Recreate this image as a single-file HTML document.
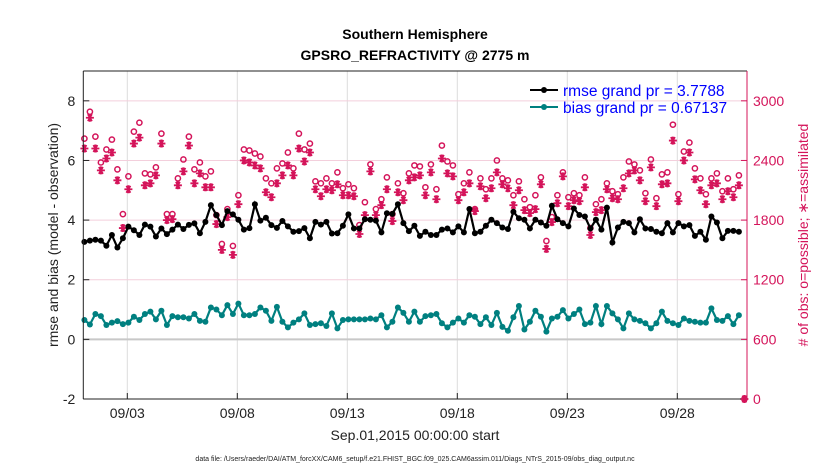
<!DOCTYPE html>
<html><head><meta charset="utf-8"><style>
body{margin:0;background:#fff;width:830px;height:470px;overflow:hidden;font-family:"Liberation Sans",sans-serif}
svg text{font-family:"Liberation Sans",sans-serif}
</style></head><body>
<svg id="chart" width="830" height="470" xmlns="http://www.w3.org/2000/svg"></svg>
<script>
const xTickLabels=["09/03","09/08","09/13","09/18","09/23","09/28"];
const xTickDays=[2,7,12,17,22,27];
const yTicksLeft=[-2,0,2,4,6,8];
const yTicksRight=[0,600,1200,1800,2400,3000];
const rmse=[3.27,3.31,3.34,3.31,3.14,3.5,3.08,3.39,3.78,3.66,3.5,3.85,3.78,3.45,3.72,3.53,3.68,3.85,3.7,3.84,3.89,3.56,3.94,4.5,4.17,3.83,4.3,4.19,4.01,3.68,3.73,4.53,3.98,4.08,3.83,3.74,3.97,3.79,3.61,3.63,3.73,3.39,3.94,3.85,3.94,3.55,3.56,3.81,4.19,3.72,3.72,4.03,4.01,3.98,3.59,4.23,4.21,4.53,3.9,3.63,3.81,
3.47,3.61,3.5,3.5,3.68,3.72,3.59,3.79,3.59,4.37,3.56,3.61,3.81,4.01,3.9,3.75,3.7,4.28,4.06,4.01,3.72,4.01,3.92,3.81,4.48,4.03,3.9,3.79,4.39,4.17,4.12,3.72,4.01,3.68,4.42,3.25,3.75,3.94,3.9,3.59,4.03,3.72,3.7,3.61,3.56,3.9,3.59,3.9,3.79,3.83,3.47,3.61,3.34,4.12,3.92,3.39,3.64,3.64,3.61];
const bias=[0.65,0.5,0.85,0.78,0.48,0.56,0.61,0.51,0.56,0.76,0.65,0.85,0.93,0.67,0.96,0.48,0.78,0.74,0.74,0.7,0.85,0.62,0.59,1.07,1.0,0.81,1.15,0.85,1.2,0.81,0.81,0.85,1.07,0.96,0.62,1.09,0.59,0.4,0.56,0.67,0.87,0.48,0.51,0.54,0.45,0.87,0.37,0.65,0.67,0.67,0.67,0.67,0.7,0.67,0.81,0.4,0.59,1.07,0.89,0.59,0.93,
0.59,0.78,0.81,0.85,0.54,0.4,0.56,0.7,0.56,0.81,0.76,0.51,0.74,0.48,0.89,0.42,0.29,0.74,1.12,0.33,0.59,0.96,0.76,0.26,0.7,0.76,0.98,0.7,0.85,1.0,0.51,0.56,1.12,0.51,1.12,0.87,0.67,0.37,0.87,0.67,0.62,0.54,0.37,0.54,0.93,0.62,0.54,0.48,0.7,0.62,0.59,0.56,0.56,1.04,0.65,0.62,0.78,0.51,0.81];
const obsAssim=[2520,2830,2520,2300,2420,2480,2200,1720,2110,2570,2630,2150,2170,2250,2570,1800,1810,2150,2290,2550,2170,2270,2130,2130,1760,1500,1830,1450,1960,2400,2380,2350,2320,2080,2030,2170,2250,2350,2250,2520,2390,2480,2110,2040,2110,2100,2160,2050,2050,2040,1660,1850,2290,1850,1950,2110,1790,2080,2000,2200,2230,
2250,2050,2280,2010,2420,2270,2240,2000,2080,2170,1890,2140,2020,2120,2280,2160,2120,1950,2100,1900,1870,1910,2160,1510,1780,1970,2240,1940,2000,1990,2130,1650,1880,1900,2110,2020,2010,2120,2270,2300,2200,1990,2330,1940,2160,2170,2600,1990,2400,2480,2210,2100,1960,2150,2170,2010,2090,2030,2150,0];
const obsPossible=[2620,2890,2640,2380,2510,2610,2310,1860,2240,2690,2780,2270,2260,2330,2670,1860,1860,2220,2410,2640,2310,2380,2240,2290,1850,1560,1910,1540,2050,2510,2500,2470,2440,2220,2170,2320,2370,2480,2320,2670,2510,2570,2190,2170,2220,2170,2280,2120,2160,2120,1750,1980,2360,1910,2010,2230,1860,2170,2070,2270,2350,
2340,2130,2360,2110,2550,2390,2350,2060,2170,2280,1910,2220,2110,2220,2400,2220,2200,2050,2190,2010,1930,2050,2230,1590,1830,2050,2280,2030,2070,2050,2230,1720,1960,2010,2170,2090,2060,2230,2390,2360,2300,2070,2410,2020,2260,2280,2760,2060,2490,2580,2320,2220,2060,2220,2270,2090,2220,2110,2250,0];

const NS="http://www.w3.org/2000/svg";
const svg=document.getElementById('chart');
const L=83.3,R=747,T=71,B=399,PX_DAY=22;
const xDay=d=>L+d*PX_DAY;
const xIdx=i=>xDay(i*0.25+0.05);
const yL=v=>B-(v+2)*(B-T)/11;
const yR=v=>yL(v/300-2);
const RED="#d4145a",TEAL="#008080";
function mk(tag,attrs,parent){const e=document.createElementNS(NS,tag);for(const k in attrs)e.setAttribute(k,attrs[k]);(parent||svg).appendChild(e);return e;}
function txt(s,attrs,parent){const e=mk('text',attrs,parent);e.textContent=s;return e;}

const grid=mk('g',{});


xTickDays.forEach(d=>{const l=mk('line',{x1:xDay(d),x2:xDay(d),y1:T,y2:B,stroke:'#dcdcdc','stroke-width':1},grid);

});
yTicksRight.forEach(v=>{if(v===0||v===600)return;const l=mk('line',{x1:L,x2:R,y1:yR(v),y2:yR(v),stroke:'#f3cfdc','stroke-width':1},grid);

});
const zl=mk('line',{x1:L,x2:R,y1:yL(0),y2:yL(0),stroke:'#c8c8c8','stroke-width':2});



const obsG=mk('g',{});


obsPossible.forEach((v,i)=>{const c=mk('circle',{cx:xIdx(i),cy:yR(v),r:2.6,fill:'none',stroke:RED,'stroke-width':1.5},obsG);

});
obsAssim.forEach((v,i)=>{
 const cx=xIdx(i),cy=yR(v),r=4;
 const d=`M${cx-r},${cy}H${cx+r}M${cx-r*0.5},${cy-r*0.87}L${cx+r*0.5},${cy+r*0.87}M${cx+r*0.5},${cy-r*0.87}L${cx-r*0.5},${cy+r*0.87}M${cx},${cy-r}V${cy+r}`;
 const p=mk('path',{d:d,stroke:RED,'stroke-width':1.8,fill:'none'},obsG);
 
 });

function series(vals,color,name){
 const g=mk('g',{});
 
 
 const p=mk('polyline',{points:vals.map((v,i)=>xIdx(i)+','+yL(v)).join(' '),fill:'none',stroke:color,'stroke-width':2.2},g);
 
 
 vals.forEach((v,i)=>{const c=mk('circle',{cx:xIdx(i),cy:yL(v),r:3,fill:color},g);
 
 });
}
series(rmse,'#000','rmse-series');
series(bias,TEAL,'bias-series');

const ax=mk('g',{});


mk('line',{x1:L,x2:R,y1:T,y2:T,stroke:'#222','stroke-width':1},ax);
mk('line',{x1:L,x2:R,y1:B,y2:B,stroke:'#222','stroke-width':1},ax);
mk('line',{x1:L,x2:L,y1:T,y2:B,stroke:'#222','stroke-width':1},ax);
mk('line',{x1:R,x2:R,y1:T,y2:B,stroke:RED,'stroke-width':1},ax);
xTickDays.forEach((d,i)=>{mk('line',{x1:xDay(d),x2:xDay(d),y1:B,y2:B-6,stroke:'#222'},ax);
const t=txt(xTickLabels[i],{x:xDay(d),y:B+19,'font-size':14,'text-anchor':'middle',fill:'#222'},ax);

});
yTicksLeft.forEach(v=>{mk('line',{x1:L,x2:L+6,y1:yL(v),y2:yL(v),stroke:'#222'},ax);
const t=txt(String(v),{x:L-8,y:yL(v)+5,'font-size':14,'text-anchor':'end',fill:'#222'},ax);

});
yTicksRight.forEach(v=>{mk('line',{x1:R,x2:R-6,y1:yR(v),y2:yR(v),stroke:RED},ax);
const t=txt(String(v),{x:R+6,y:yR(v)+5,'font-size':14,fill:RED},ax);

});
</script>
<svg style="position:absolute;left:0;top:0" width="830" height="470" xmlns="http://www.w3.org/2000/svg">
<text x="415" y="39" font-size="14" font-weight="bold" text-anchor="middle" fill="#000">Southern Hemisphere</text>
<text x="415" y="60" font-size="14" font-weight="bold" text-anchor="middle" fill="#000">GPSRO_REFRACTIVITY @ 2775 m</text>
<text transform="translate(58,235) rotate(-90)" font-size="14" text-anchor="middle" fill="#222">rmse and bias (model - observation)</text>
<text transform="translate(808,235) rotate(-90)" font-size="14" text-anchor="middle" fill="#d4145a"># of obs: o=possible; ∗=assimilated</text>
<text x="415" y="440" font-size="14" text-anchor="middle" fill="#222">Sep.01,2015 00:00:00 start</text>
<text x="415" y="461" font-size="7" text-anchor="middle" fill="#222">data file: /Users/raeder/DAI/ATM_forcXX/CAM6_setup/f.e21.FHIST_BGC.f09_025.CAM6assim.011/Diags_NTrS_2015-09/obs_diag_output.nc</text>
<g>
<line x1="530" x2="558" y1="90" y2="90" stroke="#000" stroke-width="2"/><circle cx="544" cy="90" r="3" fill="#000"/>
<text x="563" y="96" font-size="15.5" fill="#0000ff">rmse grand pr = 3.7788</text>
<line x1="530" x2="558" y1="107" y2="107" stroke="#008080" stroke-width="2"/><circle cx="544" cy="107" r="3" fill="#008080"/>
<text x="563" y="113" font-size="15.5" fill="#0000ff">bias grand pr = 0.67137</text>
</g>
</svg>
</body></html>
